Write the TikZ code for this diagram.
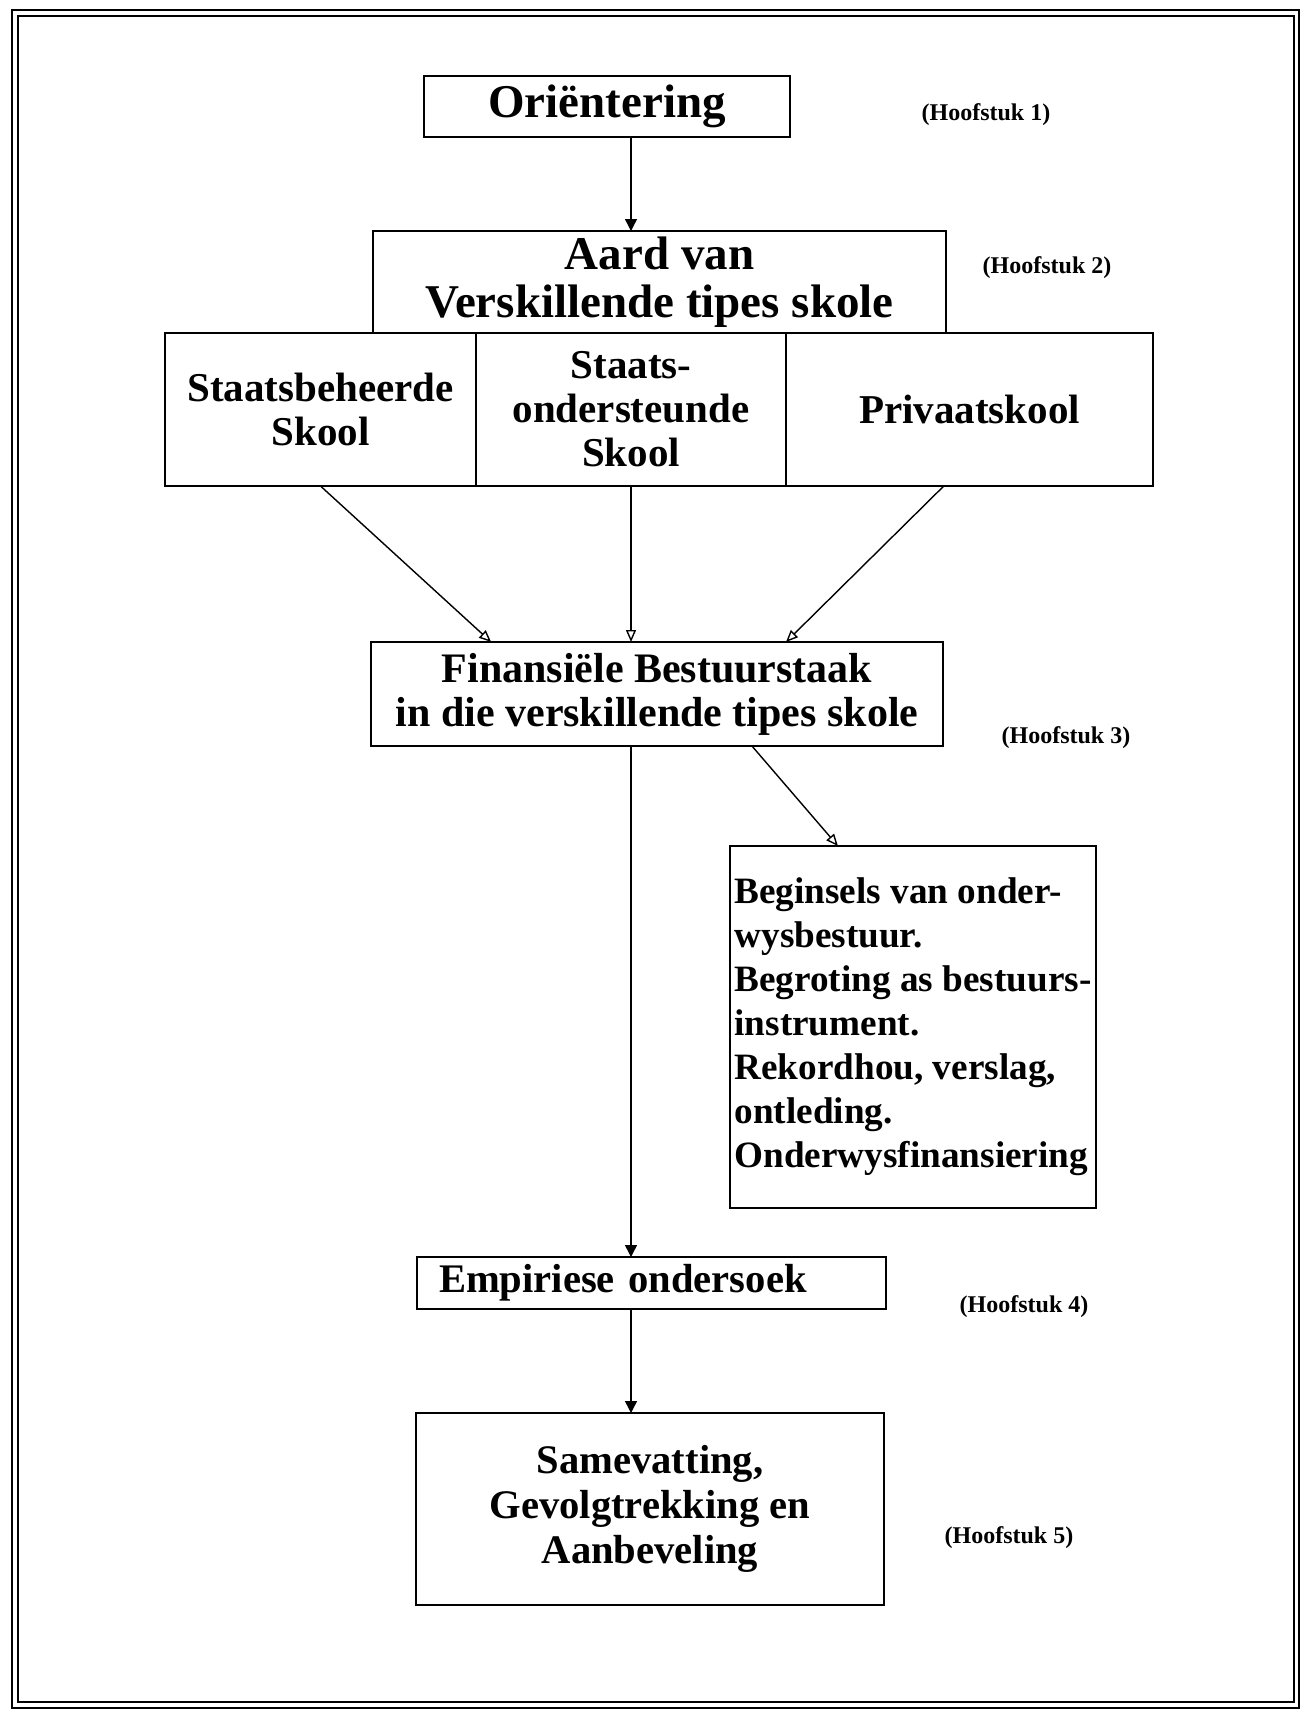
\documentclass[tikz,border=0pt]{standalone}
\usepackage{fontspec}
\setmainfont{Liberation Serif}
\usetikzlibrary{arrows.meta,calc}

\begin{document}
\begin{tikzpicture}[x=0.5pt, y=-0.5pt,
  box/.style={draw, line width=0.8pt, inner sep=0pt, outer sep=0pt, align=center},
  chap/.style={font=\fontsize{12}{14}\selectfont\bfseries},
  pijl/.style={line width=0.7pt, -{Triangle[length=6pt,width=6pt]}},
  oppijl/.style={line width=0.7pt, -{Triangle[open,length=6pt,width=5pt]}},
  frame/.style={line width=1.3pt}]
\useasboundingbox (0,0) rectangle (1300,1710);
\draw[frame] (12,10) rectangle (1299,1708);
\draw[frame] (18,16) rectangle (1294,1702);

\node[box, minimum width=183pt, minimum height=30.5pt, font=\fontsize{23.5}{25}\selectfont\bfseries] (orient) at (607,106.5) {Oriëntering};
\node[chap] (h1) at (986,115) {(Hoofstuk 1)};

\node[box, minimum width=286.5pt, minimum height=51pt, font=\fontsize{23.5}{24}\selectfont\bfseries] (aard) at (659.5,282) {Aard van\\Verskillende tipes skole};
\node[chap] (h2) at (1047,268) {(Hoofstuk 2)};

\node[box, minimum width=155.5pt, minimum height=76.5pt, font=\fontsize{20.5}{22}\selectfont\bfseries] (beheer) at (320.5,409.5) {Staatsbeheerde\\Skool};
\node[box, minimum width=155pt, minimum height=76.5pt, font=\fontsize{20.5}{22}\selectfont\bfseries] (onderst) at (631,409.5) {Staats-\\ondersteunde\\Skool};
\node[box, minimum width=183.5pt, minimum height=76.5pt, font=\fontsize{20.5}{22}\selectfont\bfseries] (privaat) at (969.5,409.5) {Privaatskool};

\node[box, minimum width=286pt, minimum height=52pt, font=\fontsize{21}{22}\selectfont\bfseries] (finans) at (657,694) {Finansiële Bestuurstaak\\in die verskillende tipes skole};
\node[chap] (h3) at (1066,738) {(Hoofstuk 3)};

\node[box, minimum width=183pt, minimum height=181pt, align=left, font=\fontsize{18.6}{22}\selectfont\bfseries] (begin) at (913,1027)
  {Beginsels van onder-\\wysbestuur.\\Begroting as bestuurs-\\instrument.\\Rekordhou, verslag,\\ontleding.\\Onderwysfinansiering};

\node[box, text width=212.5pt, inner xsep=11pt, minimum height=26pt, align=left, font=\fontsize{20.3}{22}\selectfont\bfseries] (empir) at (651.5,1283) {Empiriese ondersoek};
\node[chap] (h4) at (1024,1307) {(Hoofstuk 4)};

\node[box, minimum width=234pt, minimum height=96pt, font=\fontsize{20.3}{22.5}\selectfont\bfseries] (samev) at (650,1509) {Samevatting,\\Gevolgtrekking en\\Aanbeveling};
\node[chap] (h5) at (1009,1538) {(Hoofstuk 5)};

% pyle
\draw[pijl] (orient.south -| onderst) -- (aard.north -| onderst);
\draw[oppijl] (beheer.south) -- ($(finans.north west)!.21!(finans.north east)$);
\draw[oppijl] (onderst.south) -- (finans.north -| onderst);
\draw[oppijl] ($(privaat.south west)!.43!(privaat.south east)$) -- (finans.north -| privaat.west);
\draw[pijl] (finans.south -| onderst) -- (empir.north -| onderst);
\draw[oppijl] ($(finans.south west)!.666!(finans.south east)$) -- ($(begin.north west)!.295!(begin.north east)$);
\draw[pijl] (empir.south -| onderst) -- (samev.north -| onderst);
\end{tikzpicture}
\end{document}
